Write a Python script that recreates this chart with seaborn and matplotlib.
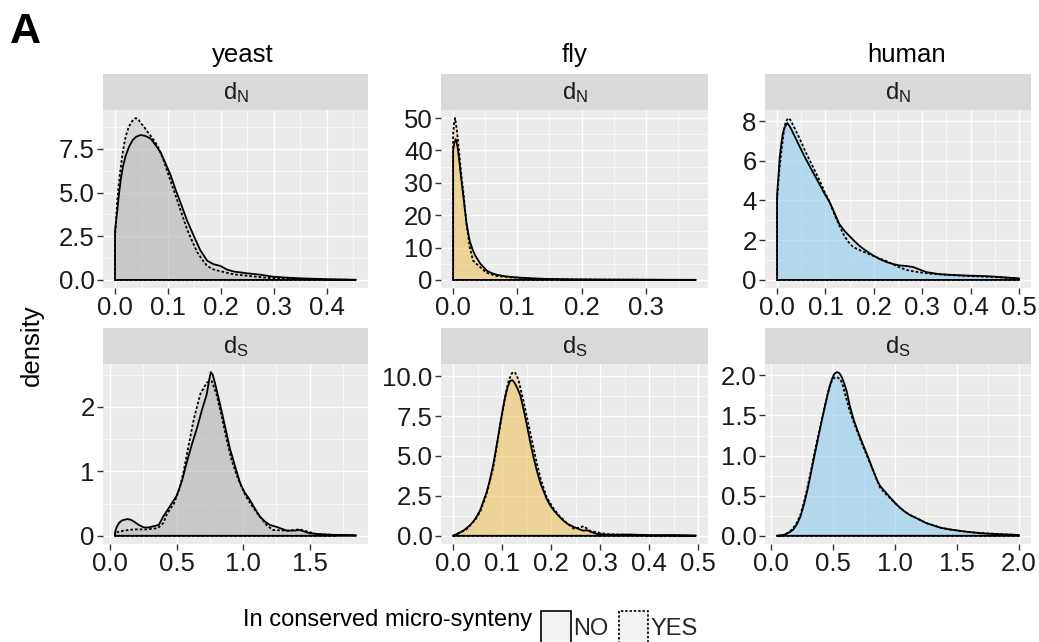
import matplotlib
matplotlib.use("Agg")
import matplotlib.pyplot as plt
import seaborn as sns
import pandas as pd
from matplotlib.ticker import FixedLocator, AutoMinorLocator
from matplotlib.patches import Patch

# ---------------- data ----------------
species = ["yeast", "fly", "human"]
rates = ["N", "S"]
groups = ["NO", "YES"]
species_colors = ["#B0B0B0", "#EEC159", "#8CCAEB"]

yeast_dN_x_no = [0.000, 0.002, 0.004, 0.007, 0.011, 0.015, 0.020, 0.026, 0.033, 0.040, 0.048, 0.057,
                 0.067, 0.076, 0.086, 0.095, 0.105, 0.114, 0.124, 0.136, 0.149, 0.161, 0.174, 0.186,
                 0.199, 0.211, 0.224, 0.249, 0.274, 0.299, 0.330, 0.360, 0.400, 0.455]
yeast_dN_y_no = [2.8, 3.4, 3.9, 4.8, 5.8, 6.5, 7.1, 7.6, 8.0, 8.2, 8.3, 8.25,
                 8.1, 7.75, 7.3, 6.7, 6.0, 5.2, 4.4, 3.4, 2.5, 1.7, 1.1, 0.9,
                 0.8, 0.6, 0.48, 0.38, 0.30, 0.18, 0.12, 0.08, 0.04, 0.01]
yeast_dN_x_yes = [0.000, 0.002, 0.004, 0.007, 0.011, 0.015, 0.020, 0.025, 0.030, 0.035, 0.039, 0.044,
                  0.048, 0.054, 0.061, 0.070, 0.080, 0.090, 0.099, 0.108, 0.117, 0.127, 0.136, 0.146,
                  0.155, 0.165, 0.174, 0.186, 0.199, 0.224, 0.256, 0.287, 0.330, 0.380, 0.440]
yeast_dN_y_yes = [2.5, 3.5, 4.5, 5.5, 6.5, 7.4, 8.2, 8.7, 9.0, 9.2, 9.27, 9.2,
                  9.0, 8.8, 8.5, 8.15, 7.7, 7.0, 6.2, 5.4, 4.6, 3.7, 2.9, 2.2,
                  1.6, 1.15, 0.8, 0.6, 0.5, 0.32, 0.22, 0.12, 0.06, 0.03, 0.01]

fly_dN_x_no = [0.000, 0.002, 0.004, 0.007, 0.010, 0.013, 0.016, 0.021, 0.026, 0.030, 0.034, 0.042,
               0.052, 0.060, 0.068, 0.080, 0.094, 0.120, 0.146, 0.198, 0.250, 0.300, 0.378]
fly_dN_y_no = [40.0, 42.5, 43.5, 41.0, 36.0, 30.5, 25.6, 17.2, 11.9, 9.5, 7.7, 5.1,
               2.9, 2.1, 1.6, 1.15, 0.85, 0.5, 0.3, 0.15, 0.1, 0.06, 0.02]
fly_dN_x_yes = [0.000, 0.0015, 0.003, 0.006, 0.010, 0.013, 0.016, 0.021, 0.026, 0.031, 0.036, 0.042,
                0.052, 0.068, 0.094, 0.130, 0.180, 0.250, 0.330]
fly_dN_y_yes = [45.0, 48.5, 50.0, 46.0, 38.0, 32.0, 27.0, 17.0, 10.0, 6.0, 5.0, 4.0,
                2.2, 1.2, 0.7, 0.35, 0.15, 0.08, 0.02]

human_dN_x_no = [0.000, 0.003, 0.0055, 0.009, 0.012, 0.016, 0.021, 0.027, 0.033, 0.040, 0.047, 0.057,
                 0.068, 0.078, 0.088, 0.098, 0.109, 0.119, 0.129, 0.140, 0.150, 0.160, 0.171, 0.185,
                 0.198, 0.212, 0.226, 0.240, 0.253, 0.267, 0.281, 0.295, 0.309, 0.336, 0.364, 0.391,
                 0.420, 0.446, 0.475, 0.500]
human_dN_y_no = [4.3, 5.3, 6.2, 6.9, 7.4, 7.7, 7.9, 7.7, 7.4, 7.05, 6.7, 6.2,
                 5.7, 5.25, 4.8, 4.35, 3.9, 3.35, 2.8, 2.45, 2.2, 1.95, 1.7, 1.45,
                 1.24, 1.05, 0.9, 0.8, 0.73, 0.7, 0.65, 0.52, 0.39, 0.29, 0.25, 0.22,
                 0.2, 0.17, 0.12, 0.08]
human_dN_x_yes = [0.000, 0.004, 0.009, 0.013, 0.016, 0.020, 0.023, 0.028, 0.033, 0.040, 0.047, 0.057,
                  0.068, 0.078, 0.088, 0.098, 0.109, 0.122, 0.136, 0.146, 0.157, 0.171, 0.185, 0.205,
                  0.226, 0.247, 0.267, 0.295, 0.322, 0.360, 0.391, 0.446, 0.500]
human_dN_y_yes = [4.0, 5.4, 6.5, 7.3, 7.8, 8.05, 8.15, 8.05, 7.8, 7.45, 7.1, 6.55,
                  6.0, 5.5, 5.0, 4.45, 3.9, 3.1, 2.35, 1.95, 1.66, 1.5, 1.35, 1.15,
                  0.95, 0.7, 0.5, 0.38, 0.3, 0.24, 0.2, 0.15, 0.06]

yeast_dS_x_no = [0.037, 0.05, 0.067, 0.09, 0.13, 0.155, 0.18, 0.215, 0.254, 0.29, 0.329, 0.366, 0.40,
                 0.45, 0.50, 0.54, 0.578, 0.615, 0.653, 0.69, 0.727, 0.745, 0.757, 0.772, 0.79, 0.82,
                 0.85, 0.875, 0.90, 0.94, 0.976, 1.01, 1.05, 1.09, 1.126, 1.165, 1.20, 1.25, 1.33,
                 1.38, 1.425, 1.50, 1.58, 1.675, 1.849]
yeast_dS_y_no = [0.06, 0.14, 0.2, 0.24, 0.26, 0.25, 0.22, 0.17, 0.13, 0.13, 0.15, 0.17, 0.3,
                 0.46, 0.62, 0.85, 1.15, 1.42, 1.67, 1.95, 2.2, 2.42, 2.54, 2.5, 2.36, 2.1,
                 1.83, 1.6, 1.36, 1.08, 0.83, 0.68, 0.56, 0.42, 0.30, 0.22, 0.17, 0.14, 0.08,
                 0.08, 0.09, 0.04, 0.025, 0.015, 0.01]
yeast_dS_x_yes = [0.037, 0.10, 0.18, 0.28, 0.36, 0.40, 0.43, 0.48, 0.52, 0.553, 0.59, 0.628, 0.678,
                  0.727, 0.765, 0.80, 0.84, 0.876, 0.91, 0.95, 0.99, 1.025, 1.075, 1.126, 1.175,
                  1.225, 1.33, 1.425, 1.55, 1.70]
yeast_dS_y_yes = [0.05, 0.08, 0.1, 0.1, 0.12, 0.2, 0.35, 0.5, 0.72, 1.0, 1.4, 1.8, 2.2,
                  2.38, 2.4, 2.2, 1.85, 1.5, 1.2, 0.95, 0.75, 0.6, 0.44, 0.3, 0.17,
                  0.09, 0.08, 0.1, 0.03, 0.01]

fly_dS_x_no = [0.0, 0.02, 0.034, 0.045, 0.055, 0.068, 0.075, 0.082, 0.089, 0.096, 0.101, 0.106, 0.111,
               0.116, 0.121, 0.126, 0.131, 0.137, 0.143, 0.15, 0.157, 0.164, 0.171, 0.178, 0.185,
               0.191, 0.198, 0.205, 0.215, 0.225, 0.233, 0.242, 0.25, 0.26, 0.266, 0.273, 0.283,
               0.294, 0.31, 0.328, 0.362, 0.396, 0.45, 0.495]
fly_dS_y_no = [0.0, 0.3, 0.65, 1.05, 1.6, 2.7, 3.5, 4.5, 5.7, 7.0, 7.9, 8.7, 9.3,
               9.7, 9.75, 9.55, 9.25, 8.8, 8.0, 7.0, 5.9, 4.9, 4.05, 3.3, 2.75,
               2.3, 1.9, 1.6, 1.25, 0.95, 0.75, 0.62, 0.5, 0.38, 0.32, 0.35, 0.22,
               0.12, 0.08, 0.07, 0.08, 0.04, 0.04, 0.02]
fly_dS_x_yes = [0.0, 0.027, 0.045, 0.055, 0.068, 0.082, 0.092, 0.102, 0.108, 0.113, 0.12, 0.126, 0.133,
                0.143, 0.15, 0.157, 0.164, 0.171, 0.18, 0.191, 0.205, 0.218, 0.232, 0.246, 0.256,
                0.266, 0.28, 0.314, 0.396, 0.48]
fly_dS_y_yes = [0.0, 0.4, 1.0, 1.5, 2.6, 4.3, 6.2, 8.0, 9.0, 9.7, 10.2, 10.25, 9.8,
                8.5, 7.5, 6.5, 5.5, 4.5, 3.4, 2.4, 1.7, 1.2, 0.8, 0.45, 0.5,
                0.6, 0.3, 0.1, 0.03, 0.01]

human_dS_x_no = [0.048, 0.10, 0.129, 0.155, 0.18, 0.21, 0.236, 0.263, 0.29, 0.317, 0.343, 0.37, 0.397,
                 0.425, 0.45, 0.47, 0.49, 0.51, 0.53, 0.55, 0.57, 0.59, 0.61, 0.635, 0.666, 0.693,
                 0.72, 0.746, 0.773, 0.80, 0.827, 0.853, 0.88, 0.92, 0.96, 1.0, 1.04, 1.08, 1.12,
                 1.16, 1.20, 1.25, 1.31, 1.37, 1.44, 1.51, 1.58, 1.65, 1.71, 1.85, 2.0]
human_dS_y_no = [0.0, 0.01, 0.03, 0.05, 0.08, 0.15, 0.24, 0.38, 0.55, 0.75, 0.95, 1.15, 1.35,
                 1.55, 1.72, 1.85, 1.95, 2.02, 2.04, 2.03, 1.98, 1.9, 1.8, 1.62, 1.45, 1.33,
                 1.22, 1.12, 1.02, 0.91, 0.8, 0.7, 0.62, 0.55, 0.48, 0.41, 0.35, 0.3, 0.26,
                 0.23, 0.2, 0.16, 0.13, 0.1, 0.08, 0.065, 0.05, 0.04, 0.03, 0.02, 0.01]
human_dS_x_yes = [0.048, 0.10, 0.15, 0.20, 0.236, 0.263, 0.29, 0.317, 0.343, 0.37, 0.397, 0.425, 0.45,
                  0.47, 0.49, 0.51, 0.53, 0.56, 0.58, 0.60, 0.63, 0.666, 0.693, 0.72, 0.746, 0.773,
                  0.80, 0.827, 0.853, 0.88, 0.92, 0.96, 1.0, 1.04, 1.08, 1.12, 1.16, 1.20, 1.25,
                  1.31, 1.37, 1.44, 1.51, 1.58, 1.65, 1.75, 1.85, 2.0]
human_dS_y_yes = [0.0, 0.01, 0.05, 0.14, 0.26, 0.41, 0.58, 0.78, 0.98, 1.18, 1.37, 1.56, 1.73,
                  1.85, 1.93, 1.97, 1.98, 1.95, 1.87, 1.75, 1.58, 1.42, 1.31, 1.2, 1.1, 1.0,
                  0.9, 0.8, 0.7, 0.6, 0.53, 0.47, 0.41, 0.35, 0.3, 0.26, 0.23, 0.2, 0.16,
                  0.13, 0.1, 0.08, 0.065, 0.05, 0.04, 0.03, 0.02, 0.01]

# tick values and labels
yeast_dN_xticks = [0.0, 0.1, 0.2, 0.3, 0.4]
yeast_dN_xlabels = ["0.0", "0.1", "0.2", "0.3", "0.4"]
yeast_dN_yticks = [0.0, 2.5, 5.0, 7.5]
yeast_dN_ylabels = ["0.0", "2.5", "5.0", "7.5"]
fly_dN_xticks = [0.0, 0.1, 0.2, 0.3]
fly_dN_xlabels = ["0.0", "0.1", "0.2", "0.3"]
fly_dN_yticks = [0, 10, 20, 30, 40, 50]
fly_dN_ylabels = ["0", "10", "20", "30", "40", "50"]
human_dN_xticks = [0.0, 0.1, 0.2, 0.3, 0.4, 0.5]
human_dN_xlabels = ["0.0", "0.1", "0.2", "0.3", "0.4", "0.5"]
human_dN_yticks = [0, 2, 4, 6, 8]
human_dN_ylabels = ["0", "2", "4", "6", "8"]
yeast_dS_xticks = [0.0, 0.5, 1.0, 1.5]
yeast_dS_xlabels = ["0.0", "0.5", "1.0", "1.5"]
yeast_dS_yticks = [0, 1, 2]
yeast_dS_ylabels = ["0", "1", "2"]
fly_dS_xticks = [0.0, 0.1, 0.2, 0.3, 0.4, 0.5]
fly_dS_xlabels = ["0.0", "0.1", "0.2", "0.3", "0.4", "0.5"]
fly_dS_yticks = [0.0, 2.5, 5.0, 7.5, 10.0]
fly_dS_ylabels = ["0.0", "2.5", "5.0", "7.5", "10.0"]
human_dS_xticks = [0.0, 0.5, 1.0, 1.5, 2.0]
human_dS_xlabels = ["0.0", "0.5", "1.0", "1.5", "2.0"]
human_dS_yticks = [0.0, 0.5, 1.0, 1.5, 2.0]
human_dS_ylabels = ["0.0", "0.5", "1.0", "1.5", "2.0"]

# ---------------- styling ----------------
sns.set_theme(style="darkgrid", rc={
    "axes.facecolor": "#EBEBEB",
    "grid.color": "white",
    "axes.edgecolor": "#EBEBEB",
})
plt.rcParams["font.family"] = ["Liberation Sans", "DejaVu Sans"]
plt.rcParams["mathtext.default"] = "regular"

W, H = 1039, 642
fig = plt.figure(figsize=(W / 100, H / 100), dpi=100)
fig.patch.set_facecolor("white")


def fbox(x0, y0, x1, y1):
    return [x0 / W, 1 - y1 / H, (x1 - x0) / W, (y1 - y0) / H]


col_px = [(103, 368), (441, 708), (765, 1031)]
row_px = [(110, 288), (364, 544)]
strip_h = 36
title_x = [243, 575, 907]

panels = {
    ("yeast", "N"): (yeast_dN_x_no, yeast_dN_y_no, yeast_dN_x_yes, yeast_dN_y_yes,
                     yeast_dN_xticks, yeast_dN_xlabels, yeast_dN_yticks, yeast_dN_ylabels),
    ("fly", "N"): (fly_dN_x_no, fly_dN_y_no, fly_dN_x_yes, fly_dN_y_yes,
                   fly_dN_xticks, fly_dN_xlabels, fly_dN_yticks, fly_dN_ylabels),
    ("human", "N"): (human_dN_x_no, human_dN_y_no, human_dN_x_yes, human_dN_y_yes,
                     human_dN_xticks, human_dN_xlabels, human_dN_yticks, human_dN_ylabels),
    ("yeast", "S"): (yeast_dS_x_no, yeast_dS_y_no, yeast_dS_x_yes, yeast_dS_y_yes,
                     yeast_dS_xticks, yeast_dS_xlabels, yeast_dS_yticks, yeast_dS_ylabels),
    ("fly", "S"): (fly_dS_x_no, fly_dS_y_no, fly_dS_x_yes, fly_dS_y_yes,
                   fly_dS_xticks, fly_dS_xlabels, fly_dS_yticks, fly_dS_ylabels),
    ("human", "S"): (human_dS_x_no, human_dS_y_no, human_dS_x_yes, human_dS_y_yes,
                     human_dS_xticks, human_dS_xlabels, human_dS_yticks, human_dS_ylabels),
}

dotted = (0, (1.5, 1.1))
line_styles = {"NO": "-", "YES": dotted}
LW = 1.3
TICK_FS = 18.5

for ci, sp in enumerate(species):
    color = species_colors[ci]
    for ri, rate in enumerate(rates):
        xn, yn, xy, yy, xt, xl, yt, yl = panels[(sp, rate)]
        (x0, x1), (y0, y1) = col_px[ci], row_px[ri]
        ax = fig.add_axes(fbox(x0, y0, x1, y1))
        strip = fig.add_axes(fbox(x0, y0 - strip_h, x1, y0))
        strip.set_facecolor("#D9D9D9")
        strip.set_xticks([]); strip.set_yticks([])
        strip.grid(False)
        for s in strip.spines.values():
            s.set_visible(False)
        strip.text(0.5, 0.48, "d$_{%s}$" % rate, ha="center", va="center",
                   fontsize=17, color="#1A1A1A", transform=strip.transAxes)

        frames = []
        for g, xs, ys in (("NO", xn, yn), ("YES", xy, yy)):
            frames.append(pd.DataFrame({"x": xs, "density": ys, "group": g}))
        df = pd.concat(frames, ignore_index=True)

        # fills
        for g in groups:
            d = df[df["group"] == g]
            ax.fill_between(d["x"], 0, d["density"], color=color, alpha=0.35, lw=0, zorder=2)
        # outlines (closed polygon like ggplot geom_density)
        for g in groups:
            d = df[df["group"] == g]
            px = [d["x"].iloc[0]] + list(d["x"]) + [d["x"].iloc[-1], d["x"].iloc[0]]
            py = [0.0] + list(d["density"]) + [0.0, 0.0]
            sns.lineplot(x=px, y=py, sort=False, estimator=None, ax=ax, color="black",
                         linewidth=LW, linestyle=line_styles[g], zorder=3)

        xmin, xmax = df["x"].min(), df["x"].max()
        ymax = df["density"].max()
        xr = xmax - xmin
        ax.set_xlim(xmin - 0.05 * xr, xmax + 0.05 * xr)
        ax.set_ylim(-0.05 * ymax, 1.05 * ymax)

        ax.xaxis.set_major_locator(FixedLocator(xt))
        ax.yaxis.set_major_locator(FixedLocator(yt))
        ax.set_xticklabels(xl)
        ax.set_yticklabels(yl)
        ax.xaxis.set_minor_locator(AutoMinorLocator(2))
        ax.yaxis.set_minor_locator(AutoMinorLocator(2))
        ax.grid(which="major", color="white", linewidth=1.0)
        ax.grid(which="minor", color="white", linewidth=0.5)
        ax.tick_params(which="major", length=4, width=1.0, color="#333333",
                       labelsize=TICK_FS, labelcolor="#1A1A1A", pad=2, bottom=True, left=True)
        ax.tick_params(which="minor", length=0)
        ax.set_xlabel("")
        ax.set_ylabel("")
        for s in ax.spines.values():
            s.set_visible(False)

    fig.text(title_x[ci] / W, 1 - 62 / H, sp, ha="center", va="baseline",
             fontsize=18.5, color="black")

fig.text(10 / W, 1 - 43 / H, "A", ha="left", va="baseline", fontsize=31,
         fontweight="bold", color="black")
fig.text(32 / W, 1 - 345 / H, "density", rotation=90, ha="center", va="center",
         fontsize=18.5, color="black")

# legend
fig.text(532 / W, 1 - 620 / H, "In conserved micro-synteny", ha="right", va="center",
         fontsize=17, color="black")
handles = [Patch(facecolor="#F2F2F2", edgecolor="black", linewidth=1.2, linestyle="-"),
           Patch(facecolor="#F2F2F2", edgecolor="black", linewidth=1.2, linestyle=dotted)]
fig.legend(handles=handles, labels=groups, ncol=2, loc="upper left",
           bbox_to_anchor=(541 / W, 1 - 611 / H), frameon=False, fontsize=17,
           handlelength=1.25, handleheight=1.75, handletextpad=0.1, columnspacing=0.45,
           borderpad=0, borderaxespad=0)

fig.savefig("out.png", dpi=100, facecolor="white")
